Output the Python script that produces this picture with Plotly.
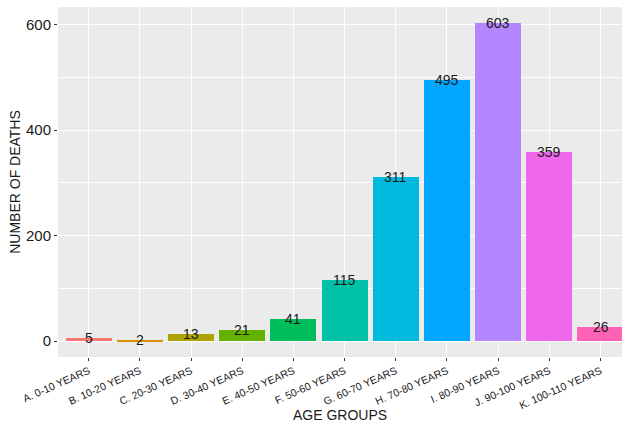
import plotly.graph_objects as go

categories = ["A. 0-10 YEARS", "B. 10-20 YEARS", "C. 20-30 YEARS", "D. 30-40 YEARS",
              "E. 40-50 YEARS", "F. 50-60 YEARS", "G. 60-70 YEARS", "H. 70-80 YEARS",
              "I. 80-90 YEARS", "J. 90-100 YEARS", "K. 100-110 YEARS"]
deaths = [5, 2, 13, 21, 41, 115, 311, 495, 603, 359, 26]
colors = ["#F8766D", "#DB8E00", "#AEA200", "#64B200", "#00BD5C", "#00C1A7",
          "#00BADE", "#00A6FF", "#B385FF", "#EF67EB", "#FF63B6"]
y_ticks = [0, 200, 400, 600]

xs = list(range(len(categories)))
fig = go.Figure()
fig.add_trace(go.Bar(x=xs, y=deaths, marker=dict(color=colors, line=dict(width=0)),
                     width=0.9, showlegend=False, hoverinfo="skip"))
for x, v in zip(xs, deaths):
    fig.add_annotation(x=x, y=v, text=str(v), showarrow=False, yanchor="middle",
                       font=dict(size=14, color="#1a1a1a", family="Liberation Sans, Arial"))

fig.update_layout(
    width=622, height=423,
    margin=dict(l=58, r=0, t=7, b=66),
    paper_bgcolor="white", plot_bgcolor="#EBEBEB",
    font=dict(family="Liberation Sans, Arial", color="#1a1a1a"),
    bargap=0,
    xaxis=dict(range=[-0.6, 10.42], tickvals=xs, ticktext=categories, tickangle=-24,
               showgrid=True, gridcolor="white", gridwidth=1.1, zeroline=False,
               ticks="outside", ticklen=3, tickcolor="#333333", tickwidth=1,
               tickfont=dict(size=10.5, color="#1a1a1a"),
               title=dict(text="AGE GROUPS", font=dict(size=14, color="#1a1a1a"), standoff=0)),
    yaxis=dict(range=[-30.15, 633.15], tickvals=y_ticks, showgrid=True, gridcolor="white",
               gridwidth=1.1, zeroline=False,
               minor=dict(tickvals=[100, 300, 500], showgrid=True, gridcolor="white", gridwidth=0.5),
               ticks="outside", ticklen=3, tickcolor="#333333", tickwidth=1,
               tickfont=dict(size=15, color="#1a1a1a"),
               title=dict(text="NUMBER OF DEATHS", font=dict(size=14, color="#1a1a1a"), standoff=2)),
)
fig.write_html("out.html", config={"displayModeBar": False},
               post_script="document.body.style.margin='0';document.body.style.overflow='hidden';")
